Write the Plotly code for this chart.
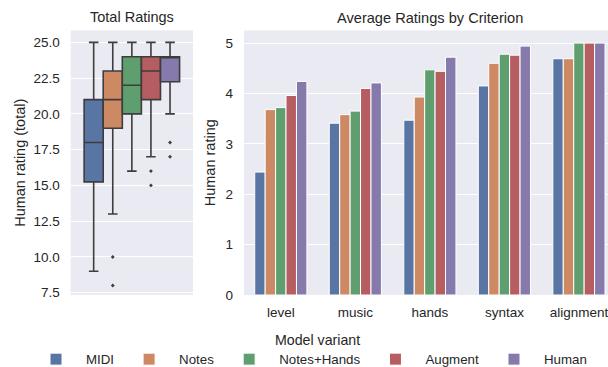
import plotly.graph_objects as go

variants = ["MIDI", "Notes", "Notes+Hands", "Augment", "Human"]
colors = ["#5975a4", "#cc8963", "#5f9e6e", "#b55d60", "#857aab"]
criteria = ["level", "music", "hands", "syntax", "alignment"]

# Average ratings per criterion, one list per model variant
midi_avg = [2.44, 3.41, 3.47, 4.15, 4.69]
notes_avg = [3.68, 3.58, 3.93, 4.60, 4.69]
notes_hands_avg = [3.72, 3.65, 4.47, 4.78, 5.00]
augment_avg = [3.96, 4.10, 4.44, 4.76, 5.00]
human_avg = [4.24, 4.21, 4.72, 4.94, 5.00]
averages = [midi_avg, notes_avg, notes_hands_avg, augment_avg, human_avg]

# Total rating box statistics per variant
box_lower = [9, 13, 16, 17, 20]
box_q1 = [15.25, 19, 20, 21, 22.25]
box_median = [18, 21, 22, 23, 24]
box_q3 = [21, 23, 24, 24, 24]
box_upper = [25, 25, 25, 25, 25]
box_outliers = [[], [10, 8], [], [16, 15], [18, 17]]

y_ticks = [7.5, 10.0, 12.5, 15.0, 17.5, 20.0, 22.5, 25.0]

fig = go.Figure()

for i, v in enumerate(variants):
    kw = {}
    if box_outliers[i]:
        kw["y"] = [box_outliers[i]]
        kw["boxpoints"] = "outliers"
    else:
        kw["boxpoints"] = False
    fig.add_trace(go.Box(
        x=["Total"], q1=[box_q1[i]], median=[box_median[i]], q3=[box_q3[i]],
        lowerfence=[box_lower[i]], upperfence=[box_upper[i]],
        name=v, legendgroup=v, showlegend=False, offsetgroup=v,
        fillcolor=colors[i], line=dict(color="#3d3d3d", width=1.6),
        whiskerwidth=0.5,
        marker=dict(color="#3d3d3d", size=3, symbol="diamond"),
        xaxis="x", yaxis="y", **kw,
    ))

for i, v in enumerate(variants):
    fig.add_trace(go.Bar(
        x=criteria, y=averages[i], name=v, legendgroup=v, offsetgroup=v,
        marker=dict(color=colors[i], line=dict(color="white", width=1)),
        xaxis="x2", yaxis="y2",
    ))

ydom = [1 - 295 / 367, 1 - 30.5 / 367]
grid = dict(showgrid=True, gridcolor="white", gridwidth=1.2, zeroline=False,
            showline=False, ticks="", ticklabelstandoff=10)

fig.update_layout(
    width=608, height=367, margin=dict(l=0, r=0, t=0, b=0, autoexpand=False),
    paper_bgcolor="white", plot_bgcolor="#EAEAF2",
    font=dict(family="Liberation Sans, Arial, sans-serif", size=13.5, color="#262626"),
    boxmode="group", boxgap=0.2, boxgroupgap=0,
    barmode="group", bargap=0.3, bargroupgap=0,
    xaxis=dict(domain=[70.7 / 608, 193 / 608], anchor="y", showticklabels=False,
               showgrid=False, zeroline=False, ticks="", automargin=False),
    yaxis=dict(domain=ydom, anchor="x", range=[7.34, 25.83], tickvals=y_ticks,
               tickformat=".1f", automargin=False,
               title=dict(text="Human rating (total)", font=dict(size=14.5), standoff=4),
               **grid),
    xaxis2=dict(domain=[244 / 608, 1], anchor="y2", type="category",
                range=[-0.494, 4.39], showgrid=False, zeroline=False, ticks="",
                ticklabelstandoff=7, automargin=False),
    yaxis2=dict(domain=ydom, anchor="x2", range=[0, 5.25], dtick=1, automargin=False,
                title=dict(text="Human rating", font=dict(size=14.5), standoff=6),
                **grid),
    legend=dict(orientation="h", x=26 / 608, xanchor="left",
                y=1 - 359.5 / 367, yanchor="middle", itemwidth=50,
                font=dict(size=13.3), bgcolor="rgba(0,0,0,0)"),
    annotations=[
        dict(text="Total Ratings", x=131.8 / 608, y=1 - 17.5 / 367, xref="paper", yref="paper",
             showarrow=False, font=dict(size=14.5), xanchor="center", yanchor="middle"),
        dict(text="Average Ratings by Criterion", x=430 / 608, y=1 - 18 / 367, xref="paper",
             yref="paper", showarrow=False, font=dict(size=14.6), xanchor="center",
             yanchor="middle"),
        dict(text="Model variant", x=317.5 / 608, y=1 - 340 / 367, xref="paper",
             yref="paper", showarrow=False, font=dict(size=14.2), xanchor="center",
             yanchor="middle"),
    ],
)

fig.write_html("out.html")
